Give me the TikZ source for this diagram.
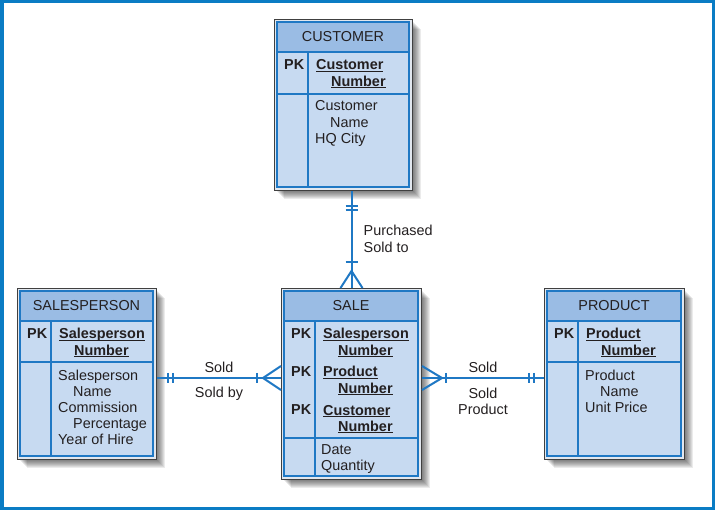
\documentclass[tikz,border=0pt]{standalone}
\usepackage{fontspec}
\setmainfont{Liberation Sans}
\usetikzlibrary{calc}
\definecolor{frameblue}{HTML}{0A7CC4}
\definecolor{lineblue}{HTML}{1F78C4}
\definecolor{hdrfill}{HTML}{9ABCE4}
\definecolor{bodyfill}{HTML}{C7DAF1}
\definecolor{rimfill}{HTML}{E2E7EE}
\definecolor{inkcol}{HTML}{231F20}
\tikzset{
  tblbox/.style={draw=black!75, line width=1pt, fill=rimfill, inner sep=0pt, anchor=north west},
  sep/.style={draw=lineblue, line width=1.2pt},
  rel/.style={draw=lineblue, line width=2pt},
  ttl/.style={font=\fontsize{14.4}{16.2}\selectfont, text=inkcol, anchor=base, inner sep=0pt},
  att/.style={font=\fontsize{14.4}{16.2}\selectfont, text=inkcol, anchor=base west, inner sep=0pt, align=left},
  pk/.style={att, font=\fontsize{14.4}{16.2}\selectfont\bfseries},
  lbl/.style={font=\fontsize{14.4}{16.2}\selectfont, text=inkcol, inner sep=0pt, align=center},
}
\newsavebox{\keybox}
\newcommand{\keyul}[1]{\sbox{\keybox}{#1}\rlap{\rule[-2.2pt]{\wd\keybox}{1.1pt}}\usebox{\keybox}}
% table: name, x, y (top left), width, height, title, bottom of key part
\newcommand{\tbl}[7]{%
  \foreach \s in {1,...,9} \fill[black, opacity=0.08] (#2+\s+1,#3+\s+1) rectangle (#2+#4+\s,#3+#5+\s);
  \node[tblbox, minimum width=#4, minimum height=#5] (#1) at (#2,#3) {};
  \fill[bodyfill] (#2+3,#3+3) rectangle (#2+#4-3,#3+#5-3);
  \fill[hdrfill] (#2+3,#3+3) rectangle (#2+#4-3,#3+33);
  \draw[sep] (#2+3,#3+3) rectangle (#2+#4-3,#3+#5-3);
  \draw[sep] (#2+3,#3+33) -- (#2+#4-3,#3+33);
  \draw[sep] (#2+3,#3+#7) -- (#2+#4-3,#3+#7);
  \draw[sep] (#2+34,#3+33) -- (#2+34,#3+#5-3);
  \node[ttl] (#1-title) at (#2+#4/2,#3+23) {#6};}
% multi-line nodes sit on the baseline of their last line
\newcommand{\pkrow}[4]{\node[pk] (#1-pk#2) at ($(#1.north west)+(10,#3)$) {PK};
  \node[pk] (#1-key#2) at ($(#1.north west)+(42,#3+16.2)$) {\keyul{#4}\\\hspace*{15pt}\keyul{Number}};}
\newcommand{\tickh}[2]{\draw[rel] ($(#1)+(#2,-5)$) -- ($(#1)+(#2,5)$);}
\newcommand{\tickv}[2]{\draw[rel] ($(#1)+(-6,#2)$) -- ($(#1)+(6,#2)$);}

\begin{document}
\begin{tikzpicture}[x=1pt, y=-1pt]
\useasboundingbox (0,0) rectangle (715,510);
\draw[frameblue, line width=3.5pt] (1.75,1.75) rectangle (713.25,508.25);

\tbl{cust}{274}{19}{138}{171}{CUSTOMER}{75}
\pkrow{cust}{1}{51}{Customer}
\node[att] (cust-att) at ($(cust.north west)+(41,124.4)$) {Customer\\\hspace*{15pt}Name\\HQ City};

\tbl{sp}{17}{288}{139}{171}{SALESPERSON}{74}
\pkrow{sp}{1}{51}{Salesperson}
\node[att] (sp-att) at ($(sp.north west)+(41,156.8)$) {Salesperson\\\hspace*{15pt}Name\\Commission\\\hspace*{15pt}Percentage\\Year of Hire};

\tbl{sale}{281}{288}{140}{191}{SALE}{150}
\pkrow{sale}{1}{51}{Salesperson}
\pkrow{sale}{2}{89}{Product}
\pkrow{sale}{3}{127}{Customer}
\node[att] (sale-att) at ($(sale.north west)+(40,182.2)$) {Date\\Quantity};

\tbl{prod}{544}{288}{140}{171}{PRODUCT}{74}
\pkrow{prod}{1}{51}{Product}
\node[att] (prod-att) at ($(prod.north west)+(41,124.4)$) {Product\\\hspace*{15pt}Name\\Unit Price};

\coordinate (midrow) at (0,378);
\coordinate (cuB) at (sale.north |- cust.south);
\coordinate (saT) at (sale.north);
\coordinate (spR) at (sp.east |- midrow);
\coordinate (saL) at (sale.west |- midrow);
\coordinate (saR) at (sale.east |- midrow);
\coordinate (prL) at (prod.west |- midrow);

% customer - sale
\draw[rel] (cuB) -- (saT);
\tickv{cuB}{15}
\tickv{cuB}{19}
\tickv{saT}{-26}
\draw[rel] ($(saT)+(-11,0)$) -- ($(saT)+(0,-17)$) -- ($(saT)+(11,0)$);
\node[lbl, anchor=base west, align=left] (purch) at ($(cuB)+(12,61.2)$) {Purchased\\Sold to};

% salesperson - sale
\draw[rel] (spR) -- (saL);
\tickh{spR}{11}
\tickh{spR}{16}
\tickh{saL}{-24}
\draw[rel] ($(saL)+(0,-12)$) -- ($(saL)+(-18,0)$) -- ($(saL)+(0,12)$);
\node[lbl, anchor=base] (sold-a) at ($(spR)!0.5!(saL)+(0,-5)$) {Sold};
\node[lbl, anchor=base] (sold-by) at ($(spR)!0.5!(saL)+(0,20)$) {Sold by};

% sale - product
\draw[rel] (saR) -- (prL);
\draw[rel] ($(saR)+(0,-12)$) -- ($(saR)+(20,0)$) -- ($(saR)+(0,12)$);
\tickh{saR}{24}
\tickh{prL}{-15}
\tickh{prL}{-10}
\node[lbl, anchor=base] (sold-b) at ($(saR)!0.5!(prL)+(0,-5)$) {Sold};
\node[lbl, anchor=base] (sold-prod) at ($(saR)!0.5!(prL)+(0,36.2)$) {Sold\\Product};

\end{tikzpicture}
\end{document}
